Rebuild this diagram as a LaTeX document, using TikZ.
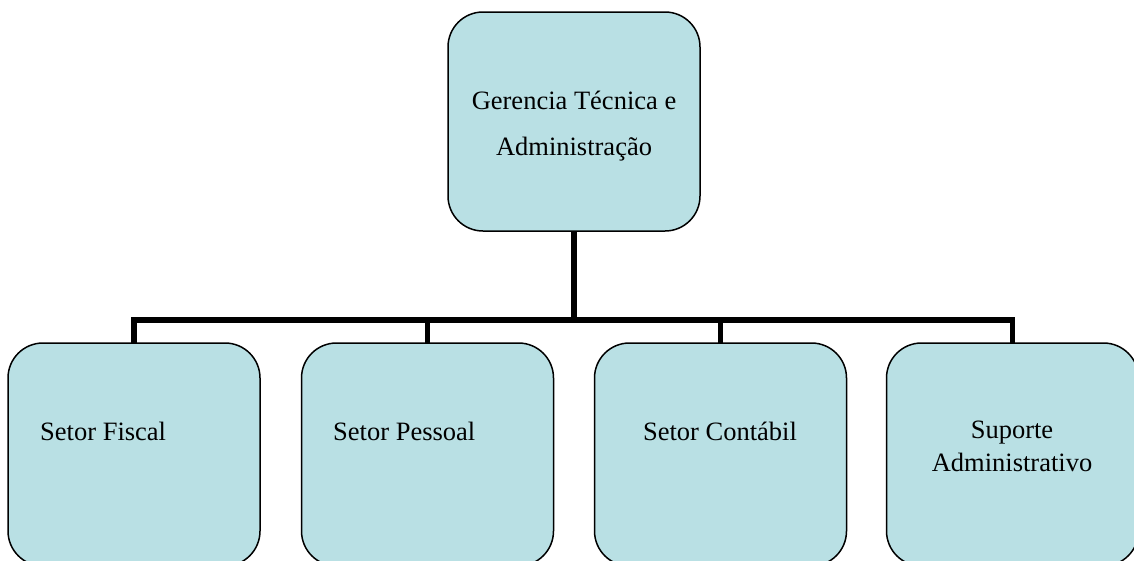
\documentclass[tikz,border=0pt]{standalone}
\usepackage{fontspec}
\setmainfont{Liberation Serif}
\definecolor{boxfill}{RGB}{185,224,228}
\begin{document}
\begin{tikzpicture}[x=1pt,y=-1pt,
  orgbox/.style={draw=black,line width=1.5pt,fill=boxfill,rounded corners=35pt,
    minimum width=252pt,inner sep=0pt,outer sep=0pt},
  conn/.style={line width=5.5pt,line join=miter,line cap=butt},
  lbl/.style={inner sep=0pt,font=\fontsize{26.5pt}{30pt}\selectfont}]
\useasboundingbox (0,0) rectangle (1134,560);
\clip (0,0) rectangle (1134,560);
\node[orgbox,minimum height=219pt] (top) at (574,121.5) {};
\node[orgbox,minimum height=223pt] (b1) at (134,454.5) {};
\node[orgbox,minimum height=223pt] (b2) at (427.5,454.5) {};
\node[orgbox,minimum height=223pt] (b3) at (720.5,454.5) {};
\node[orgbox,minimum height=223pt] (b4) at (1012.5,454.5) {};
\coordinate (bar) at (574,320);
\draw[conn] (top.south) -- (bar);
\draw[conn] (b1.north) -- (b1.north |- bar) -- (b4.north |- bar) -- (b4.north);
\draw[conn] (b2.north) -- (b2.north |- bar);
\draw[conn] (b3.north) -- (b3.north |- bar);
\node[lbl,anchor=base] (t1) at (574,109) {Gerencia Técnica e};
\node[lbl,anchor=base] (t2) at (574,155) {Administração};
\node[lbl,anchor=base west] (l1) at (40,440) {Setor Fiscal};
\node[lbl,anchor=base west] (l2) at (333,440) {Setor Pessoal};
\node[lbl,anchor=base] (l3) at (720,440) {Setor Contábil};
\node[lbl,anchor=base] (l4a) at (1012,438) {Suporte};
\node[lbl,anchor=base] (l4b) at (1012,471) {Administrativo};
\end{tikzpicture}
\end{document}
